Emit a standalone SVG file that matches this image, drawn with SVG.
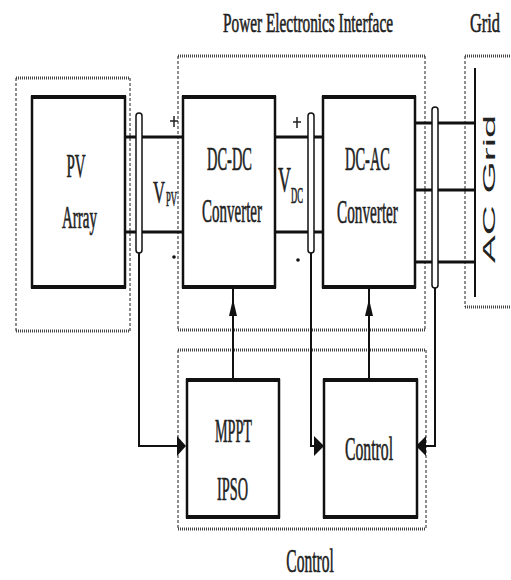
<svg xmlns="http://www.w3.org/2000/svg" width="511" height="580" viewBox="0 0 511 580">
<defs>
<style>
.t{font-family:"Liberation Serif","Times New Roman",serif;fill:#222;stroke:#222;stroke-width:0.5;text-anchor:middle;}
.s{font-family:"Liberation Sans",Arial,sans-serif;fill:#222;text-anchor:middle;}
.box{fill:#fff;stroke:#111;stroke-width:2.5;}
.edge{stroke:#111;stroke-width:4;}
.dh{stroke:#444;stroke-width:3;stroke-dasharray:1 1;fill:none;}
.dv{stroke:#444;stroke-width:1.2;stroke-dasharray:3 2;fill:none;}
.wire{stroke:#111;stroke-width:3;fill:none;}
.line{stroke:#111;stroke-width:2;fill:none;}
.sensor{fill:#fff;stroke:#111;stroke-width:1.5;}
.ah{fill:#111;}
.pm{stroke:#222;stroke-width:1.5;}
</style>
</defs>
<rect width="511" height="580" fill="#fff"/>

<g id="group-pv">
<line class="dh" x1="16" y1="78" x2="130" y2="78"/>
<line class="dh" x1="16" y1="331" x2="130" y2="331"/>
<line class="dv" x1="16" y1="78" x2="16" y2="331"/>
<line class="dv" x1="130" y1="78" x2="130" y2="331"/>
</g>
<g id="group-pei">
<line class="dh" x1="178" y1="56" x2="425" y2="56"/>
<line class="dh" x1="178" y1="330" x2="425" y2="330"/>
<line class="dv" x1="178" y1="56" x2="178" y2="330"/>
<line class="dv" x1="425" y1="56" x2="425" y2="330"/>
<text class="t" font-size="28" vector-effect="non-scaling-stroke" transform="translate(308,32) scale(0.547,1)">Power Electronics Interface</text>
</g>
<g id="group-control">
<line class="dh" x1="178" y1="350" x2="426" y2="350"/>
<line class="dh" x1="178" y1="529" x2="426" y2="529"/>
<line class="dv" x1="178" y1="350" x2="178" y2="529"/>
<line class="dv" x1="426" y1="350" x2="426" y2="529"/>
<text class="t" font-size="33" vector-effect="non-scaling-stroke" transform="translate(310,572) scale(0.47,1)">Control</text>
</g>
<g id="group-grid">
<line class="dh" x1="465" y1="56" x2="511" y2="56"/>
<line class="dh" x1="465" y1="307" x2="511" y2="307"/>
<line class="dv" x1="465" y1="56" x2="465" y2="307"/>
<text class="t" font-size="28" vector-effect="non-scaling-stroke" transform="translate(485,32) scale(0.585,1)">Grid</text>
</g>

<g id="connectors">
<line class="wire" x1="125" y1="137" x2="183" y2="137"/>
<line class="wire" x1="125" y1="232" x2="183" y2="232"/>
<line class="wire" x1="275" y1="137" x2="323" y2="137"/>
<line class="wire" x1="275" y1="232" x2="323" y2="232"/>
<line class="wire" x1="415" y1="123" x2="475" y2="123"/>
<line class="wire" x1="415" y1="190" x2="475" y2="190"/>
<line class="wire" x1="415" y1="262" x2="475" y2="262"/>
<line class="line" x1="475" y1="68" x2="475" y2="297" stroke-width="1.5"/>
<polyline class="line" points="139,253 139,446 178,446"/>
<polygon class="ah" points="186,446 177,436 177,456"/>
<polyline class="line" points="311,253 311,446 315,446"/>
<polygon class="ah" points="324,446 314,436 314,456"/>
<polyline class="line" points="435,288 435,446 425,446"/>
<polygon class="ah" points="416,446 426,436 426,456"/>
<line class="line" x1="233" y1="380" x2="233" y2="288"/>
<polygon class="ah" points="233,299 229,316 237,316"/>
<line class="line" x1="369" y1="380" x2="369" y2="288"/>
<polygon class="ah" points="369,299 365,316 373,316"/>
<rect class="sensor" x="136" y="113" width="6" height="140" rx="3"/>
<rect class="sensor" x="308" y="113" width="6" height="140" rx="3"/>
<rect class="sensor" x="432" y="107" width="6" height="181" rx="3"/>
<path class="pm" d="M170 121 H178 M174 116 V127"/>
<path class="pm" d="M293 122 H301 M297 117 V128"/>
<circle cx="174" cy="257" r="1.8" fill="#111"/>
<circle cx="298" cy="260" r="1.8" fill="#111"/>
<text class="t" font-size="32" vector-effect="non-scaling-stroke" transform="translate(159,203) scale(0.52,1)">V</text>
<text class="t" font-size="20" vector-effect="non-scaling-stroke" transform="translate(171.5,206) scale(0.43,1)">PV</text>
<text class="t" font-size="35" vector-effect="non-scaling-stroke" transform="translate(284.5,192) scale(0.51,1)">V</text>
<text class="t" font-size="24" vector-effect="non-scaling-stroke" transform="translate(297,203) scale(0.36,1)">DC</text>
</g>

<g id="pv-array">
<rect class="box" x="32" y="97" width="93" height="190"/>
<line class="edge" x1="31" y1="97" x2="126" y2="97"/>
<line class="edge" x1="31" y1="287" x2="126" y2="287"/>
<text class="t" font-size="34" vector-effect="non-scaling-stroke" transform="translate(76,177) scale(0.44,1)">PV</text>
<text class="t" font-size="31" vector-effect="non-scaling-stroke" transform="translate(79.5,228) scale(0.484,1)">Array</text>
</g>
<g id="dc-dc">
<rect class="box" x="183" y="97" width="92" height="190"/>
<line class="edge" x1="182" y1="97" x2="276" y2="97"/>
<line class="edge" x1="182" y1="287" x2="276" y2="287"/>
<text class="t" font-size="34" vector-effect="non-scaling-stroke" transform="translate(229.5,170) scale(0.425,1)">DC-DC</text>
<text class="t" font-size="34" vector-effect="non-scaling-stroke" transform="translate(232,222) scale(0.441,1)">Converter</text>
</g>
<g id="dc-ac">
<rect class="box" x="323" y="97" width="92" height="190"/>
<line class="edge" x1="322" y1="97" x2="416" y2="97"/>
<line class="edge" x1="322" y1="287" x2="416" y2="287"/>
<text class="t" font-size="34" vector-effect="non-scaling-stroke" transform="translate(367.5,170) scale(0.425,1)">DC-AC</text>
<text class="t" font-size="34" vector-effect="non-scaling-stroke" transform="translate(367.5,223) scale(0.448,1)">Converter</text>
</g>
<g id="ac-grid">
<text class="s" font-size="17" transform="translate(495,189) rotate(-90) scale(2.45,1)">AC Grid</text>
</g>
<g id="mppt">
<rect class="box" x="187" y="380" width="92" height="137"/>
<line class="edge" x1="186" y1="380" x2="280" y2="380"/>
<line class="edge" x1="186" y1="517" x2="280" y2="517"/>
<text class="t" font-size="34" vector-effect="non-scaling-stroke" transform="translate(233.5,442) scale(0.417,1)">MPPT</text>
<text class="t" font-size="34" vector-effect="non-scaling-stroke" transform="translate(232.5,500) scale(0.42,1)">IPSO</text>
</g>
<g id="control">
<rect class="box" x="324" y="380" width="93" height="137"/>
<line class="edge" x1="323" y1="380" x2="418" y2="380"/>
<line class="edge" x1="323" y1="517" x2="418" y2="517"/>
<text class="t" font-size="34" vector-effect="non-scaling-stroke" transform="translate(369,460) scale(0.462,1)">Control</text>
</g>
</svg>
